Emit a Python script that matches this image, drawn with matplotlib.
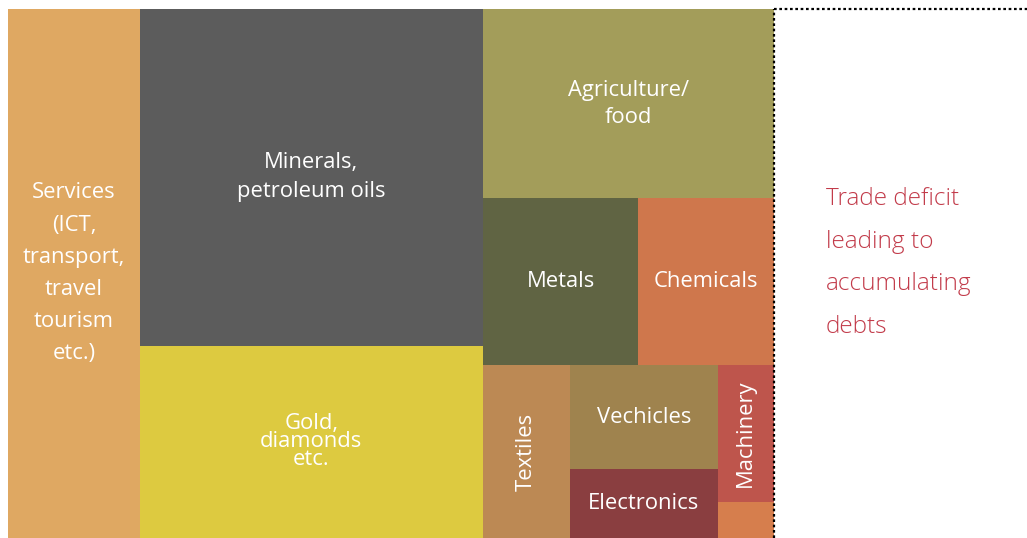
import matplotlib.pyplot as plt
from matplotlib.patches import Rectangle

# share of imports (%), read from the rectangle areas
labels = ['Services\n(ICT,\ntransport,\ntravel\ntourism\netc.)',
          'Minerals,\npetroleum oils', 'Gold,\ndiamonds\netc.',
          'Agriculture/\nfood', 'Metals', 'Chemicals', 'Textiles',
          'Vechicles', 'Electronics', 'Machinery', '']
values = [17.2, 28.5, 16.3, 13.6, 6.4, 5.6, 3.7, 3.8, 2.5, 1.9, 0.5]
colors = ['#DFA862', '#5C5C5C', '#DDCA40', '#A39D5A', '#606443', '#CF774C',
          '#BC8954', '#9F834E', '#8A3E40', '#BE554C', '#D67E4D']
rotations = [0, 0, 0, 0, 0, 0, 90, 0, 0, 90, 0]
spacing = [1.7, 1.5, 0.82, 1.37, 1.2, 1.2, 1.2, 1.2, 1.2, 1.2, 1.2]

# nesting of the slice-and-dice layout (indices into the lists above)
tree = [0, [1, 2], [3, [4, 5], [6, [7, 8], [9, 10]]]]

note = 'Trade deficit\nleading to\naccumulating\ndebts'


def total(node):
    if isinstance(node, int):
        return values[node]
    return sum(total(n) for n in node)


def place(node, x, y, w, h, horiz, out):
    # y is the top edge, rectangles go downwards
    if isinstance(node, int):
        out[node] = (x, y - h, w, h)
        return
    s = total(node)
    for n in node:
        f = total(n) / s
        if horiz:
            place(n, x, y, w * f, h, not horiz, out)
            x += w * f
        else:
            place(n, x, y, w, h * f, not horiz, out)
            y -= h * f


boxes = {}
place(tree, 0, 1, 1, 1, True, boxes)

fig = plt.figure(figsize=(10.27, 5.38), dpi=100)
ax = fig.add_axes([8 / 1027, 0, 1019 / 1027, 529 / 538])
ax.set_xlim(0, 1019 / 766)
ax.set_ylim(0, 1)
ax.axis('off')

plt.rcParams['font.family'] = ['Open Sans', 'DejaVu Sans']

for i in range(len(values)):
    x, y, w, h = boxes[i]
    ax.add_patch(Rectangle((x, y), w, h, facecolor=colors[i], edgecolor='none'))
    if labels[i]:
        ax.text(x + w / 2, y + h / 2, labels[i], ha='center', va='center',
                color='white', fontsize=15.8, rotation=rotations[i],
                linespacing=spacing[i], multialignment='center')

# dashed outline of the deficit area
ax.plot([1, 1], [0, 1], color='black', lw=1.6, ls=(0, (1.2, 1.2)), clip_on=False)
ax.plot([1, 1019 / 766], [1, 1], color='black', lw=1.6, ls=(0, (1.2, 1.2)), clip_on=False)

ax.text(1.068, 0.52, note, ha='left', va='center', color='#C23B4A',
        fontsize=17.6, fontweight='light', linespacing=2.04)

plt.savefig('out.png', dpi=100)
